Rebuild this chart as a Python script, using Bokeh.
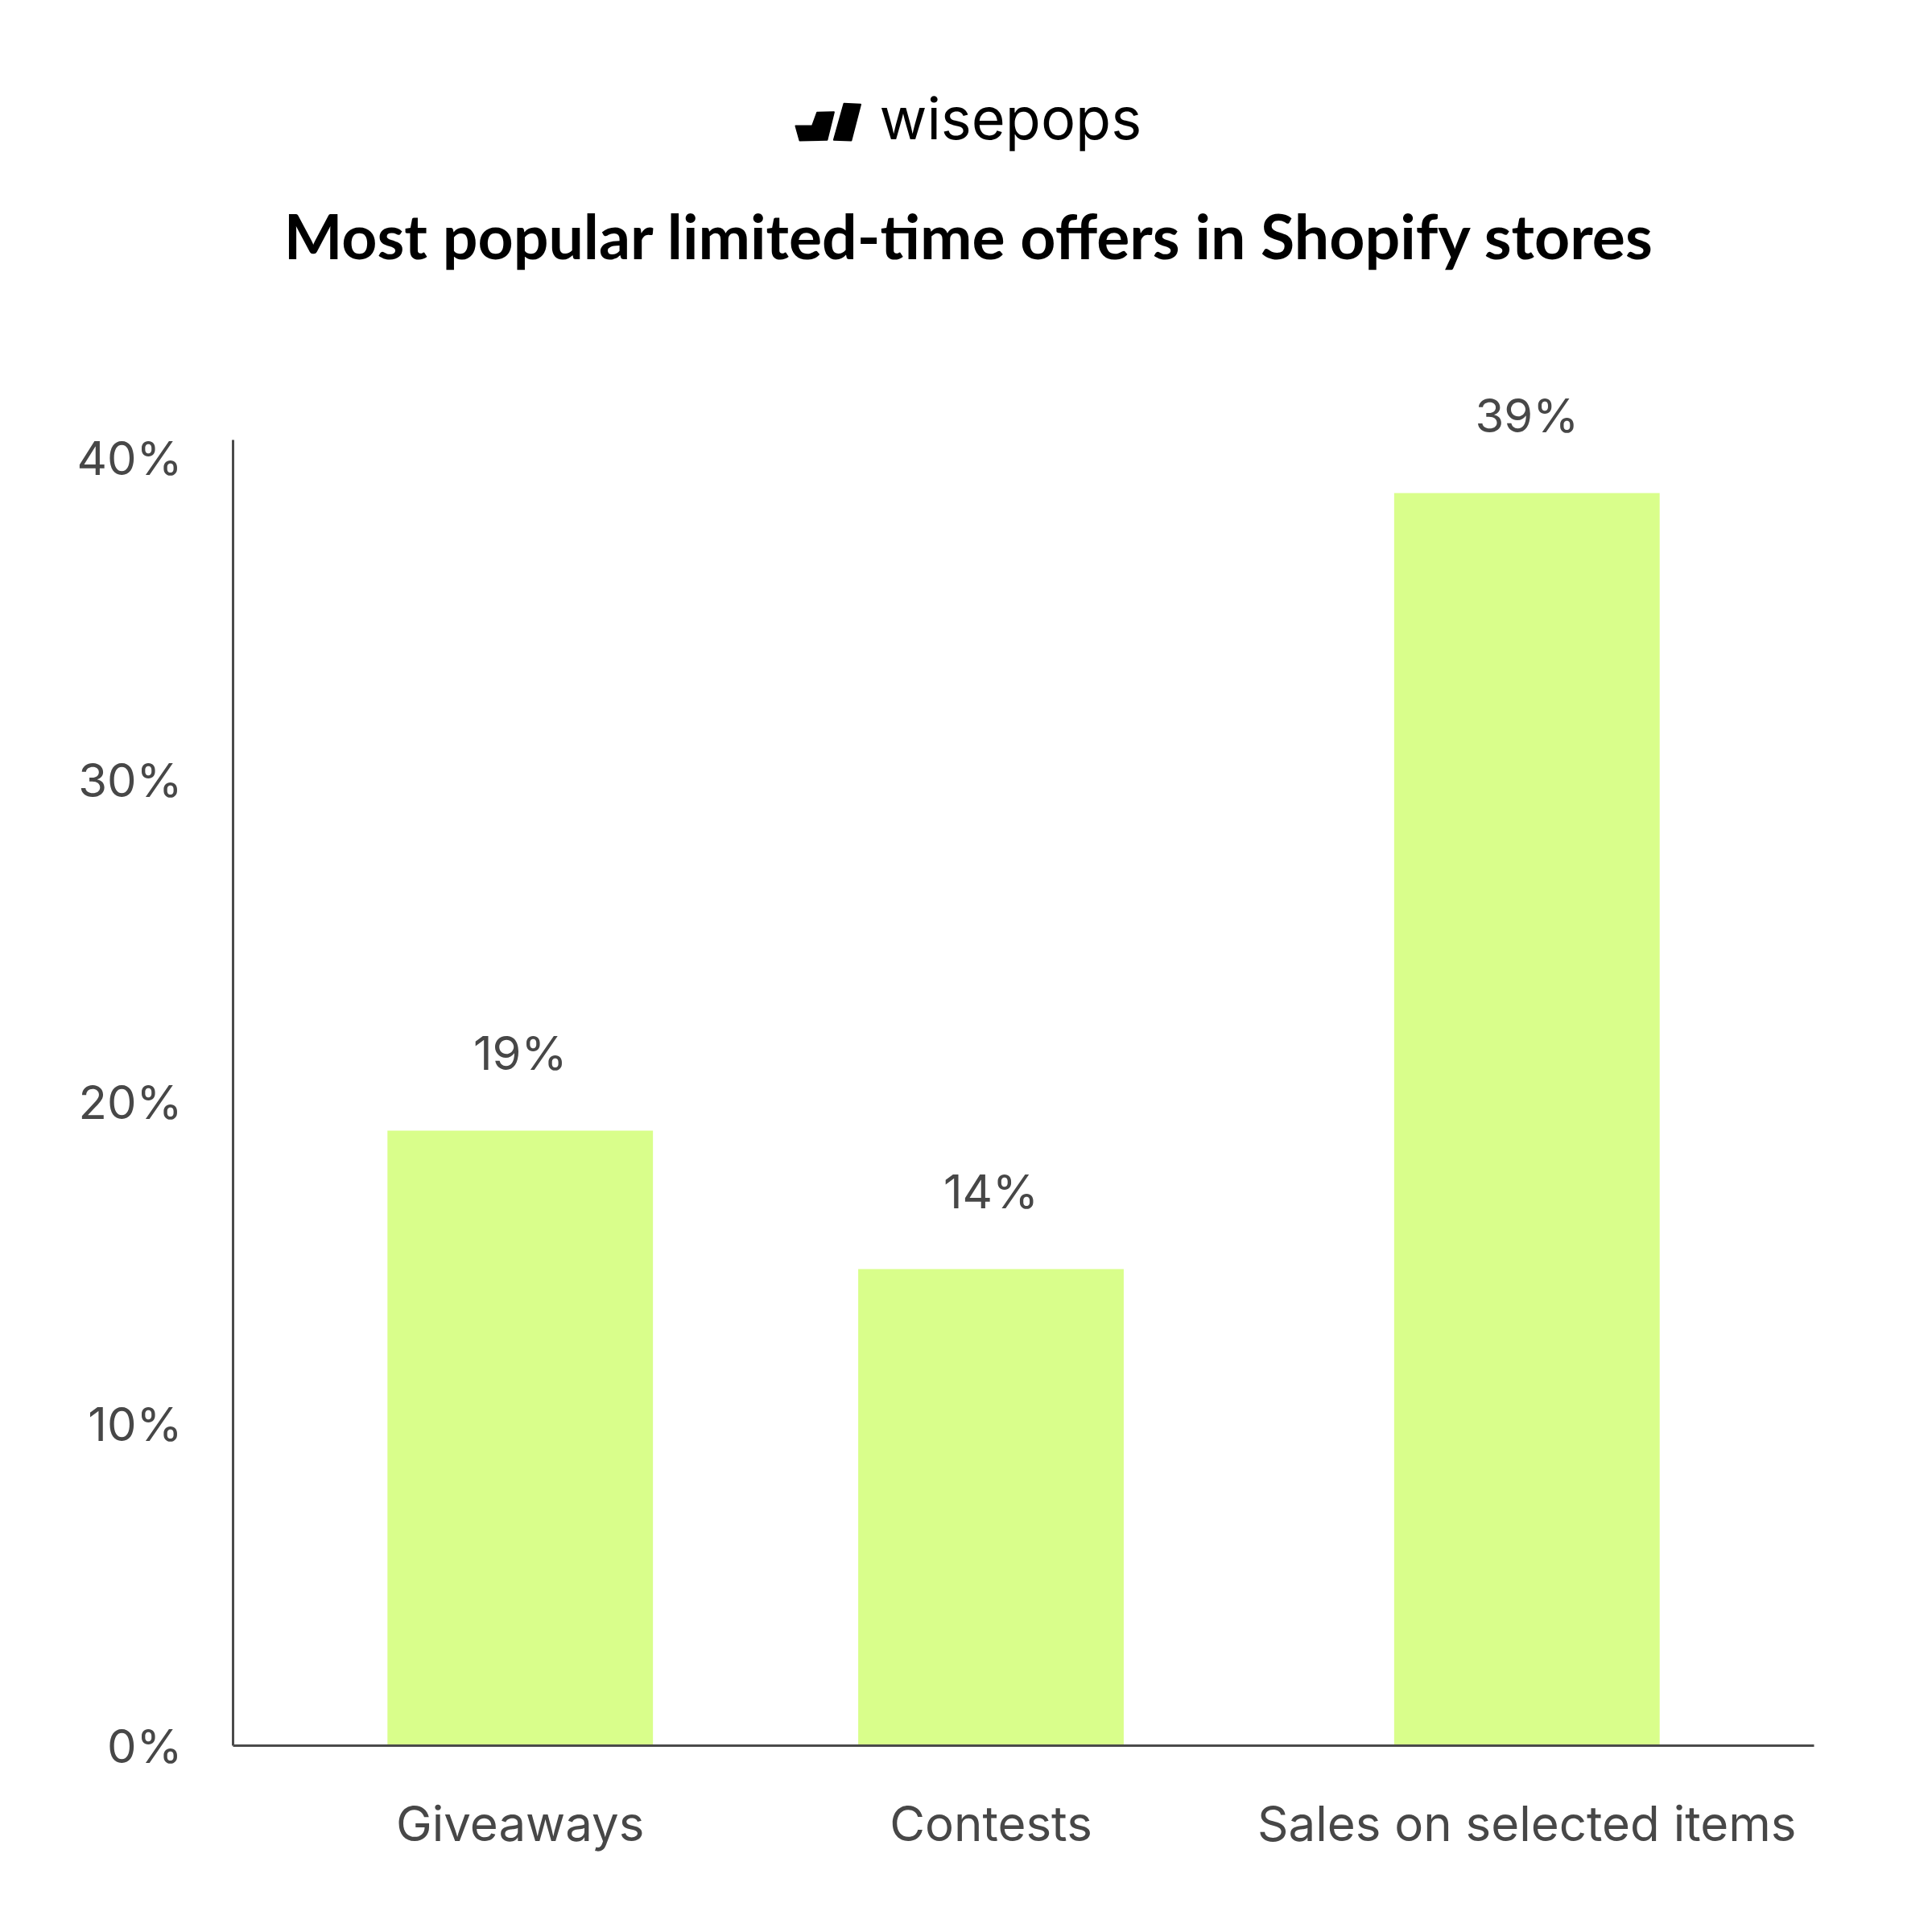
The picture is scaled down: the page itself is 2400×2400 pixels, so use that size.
from bokeh.plotting import figure
from bokeh.layouts import column
from bokeh.models import FactorRange, Range1d, FixedTicker, ColumnDataSource
from bokeh.core.properties import value
from bokeh.embed import file_html
from bokeh.resources import INLINE

# ---- data ----
categories = ["Giveaways", "Contests", "Sales on selected items"]
groups = ["g1", "g1", "g2"]
values = [19.1, 14.8, 38.9]
value_labels = ["19%", "14%", "39%"]
y_ticks = [0, 10, 20, 30, 40]
y_tick_labels = ["0%", "10%", "20%", "30%", "40%"]
title_text = "Most popular limited-time offers in Shopify stores"
brand_text = "wisepops"

TEXT = "#474747"
AXIS = "#4a4a4a"
BAR = "#D9FE8B"
FONT = "Inter"

W = 2384
HH = 408
HM = 1960
LEFT = 289
RIGHT = 131

# ---- header (logo + title) ----
h = figure(width=W, height=HH, x_range=Range1d(LEFT, W - RIGHT), y_range=Range1d(HH, 0),
           x_axis_type=None, y_axis_type=None,
           output_backend="svg", toolbar_location=None,
           min_border_left=LEFT, min_border_right=RIGHT, min_border_top=0, min_border_bottom=0)
h.grid.visible = False
h.outline_line_color = None
h.background_fill_color = "white"
h.border_fill_color = "white"

icon_xs = [[988, 1008.5, 1014.6, 1035.4, 1026.9, 993],
           [1048, 1068.5, 1056.9, 1035.4]]
icon_ys = [[156, 156, 139.3, 138.7, 173.3, 174],
           [128.3, 129.3, 174, 173.3]]
h.patches(xs=icon_xs, ys=icon_ys, fill_color="black", line_color="black", line_width=2, line_join="round")
h.text(x=[1092], y=[146], text=[brand_text], text_font=value(FONT), text_font_size="72px",
       text_color="black", text_align="left", text_baseline="alphabetic")
h.text(x=[1204], y=[291], text=[title_text], text_font=value("Lato"), text_font_style="bold",
       text_font_size="77px", text_color="black", text_align="center", text_baseline="alphabetic")

# ---- main chart ----
factors = list(zip(groups, categories))
x_range = FactorRange(*factors, factor_padding=0.0, group_padding=0.1385,
                      range_padding=0.11, range_padding_units="absolute")
y_top = 42.7
p = figure(width=W, height=HM, x_range=x_range, y_range=Range1d(0, y_top),
           output_backend="svg", toolbar_location=None,
           min_border_left=LEFT, min_border_right=RIGHT, min_border_top=52, min_border_bottom=200)
p.outline_line_color = None
p.grid.visible = False
p.background_fill_color = "white"
p.border_fill_color = "white"

src = ColumnDataSource(dict(x=factors, top=values, label=value_labels))
p.vbar(x="x", top="top", width=0.564, source=src, fill_color=BAR, line_color=None)
p.text(x="x", y="top", text="label", source=src, text_align="center", text_baseline="alphabetic",
       y_offset=-97, text_font=value(FONT), text_font_size="58px", text_color=TEXT)

# y axis
p.yaxis.ticker = FixedTicker(ticks=y_ticks)
p.yaxis.major_label_overrides = {t: l for t, l in zip(y_ticks, y_tick_labels)}
p.yaxis.bounds = (0, 40.55)
p.yaxis.axis_line_color = AXIS
p.yaxis.axis_line_width = 3
p.yaxis.major_tick_line_color = None
p.yaxis.minor_tick_line_color = None
p.yaxis.major_tick_out = 0
p.yaxis.major_tick_in = 0
p.yaxis.major_label_standoff = 63
p.yaxis.major_label_text_font = FONT
p.yaxis.major_label_text_font_size = "58px"
p.yaxis.major_label_text_color = TEXT

# x axis
p.xaxis.axis_line_color = AXIS
p.xaxis.axis_line_width = 3
p.xaxis.major_tick_line_color = None
p.xaxis.major_tick_out = 0
p.xaxis.major_tick_in = 0
p.xaxis.major_label_standoff = 60
p.xaxis.major_label_text_font = FONT
p.xaxis.major_label_text_font_size = "60px"
p.xaxis.major_label_text_color = TEXT
p.xaxis.group_text_font_size = "1px"
p.xaxis.group_text_color = None
p.xaxis.separator_line_color = None

layout = column(h, p, spacing=0)
open("out.html", "w").write(file_html(layout, INLINE))
